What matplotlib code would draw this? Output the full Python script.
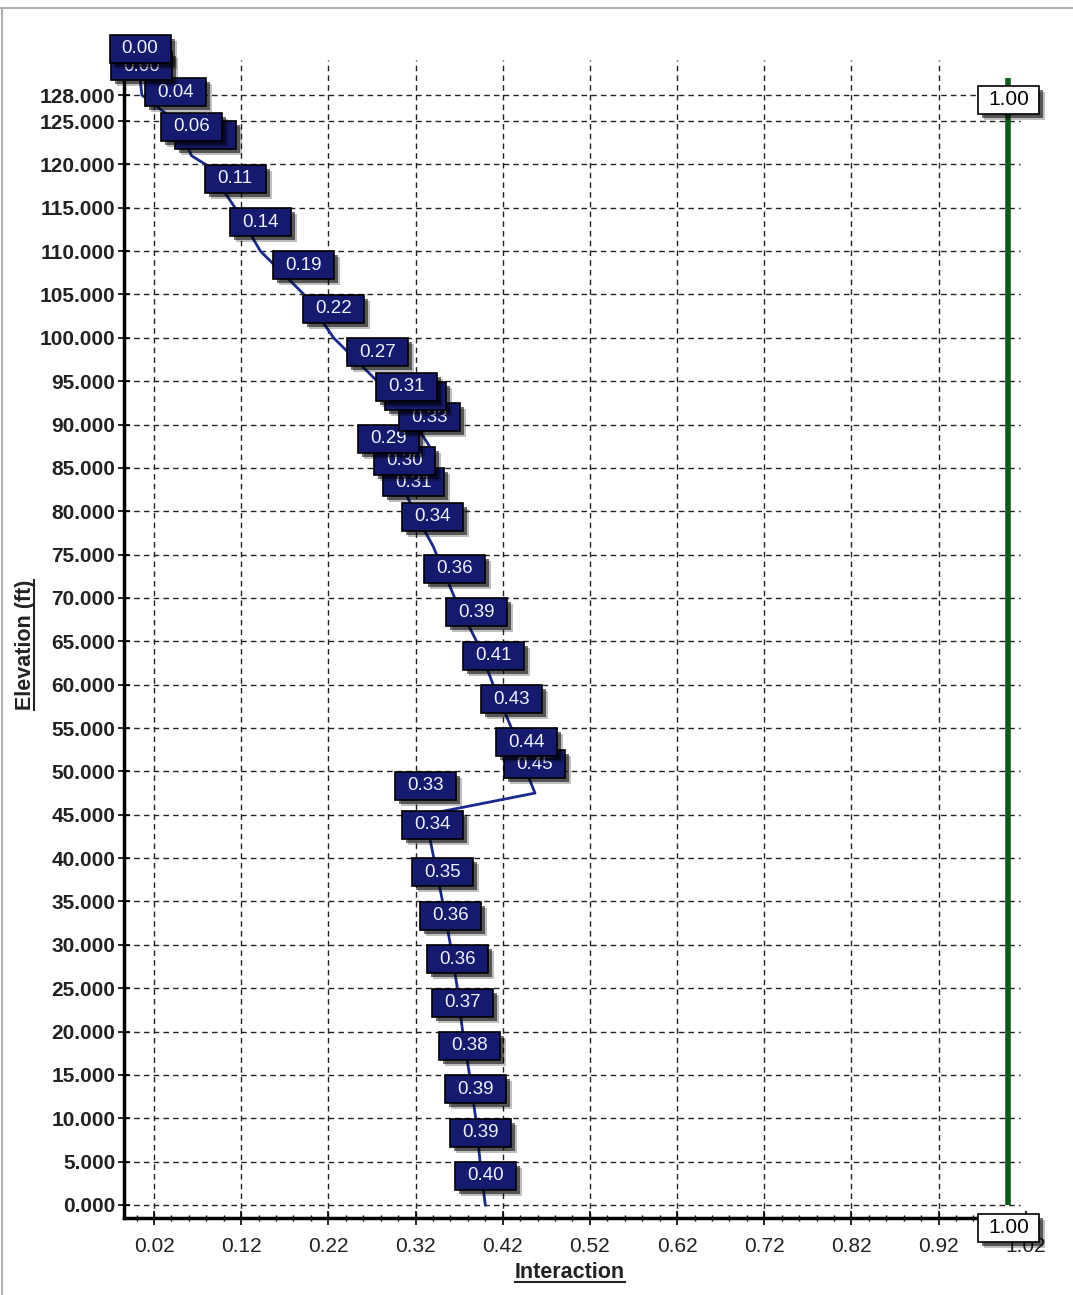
import numpy as np
import matplotlib
matplotlib.use("Agg")
import matplotlib.pyplot as plt
import matplotlib.transforms as mtransforms
from matplotlib.patches import Rectangle
from matplotlib.lines import Line2D

plt.rcParams['font.family'] = ['Liberation Sans', 'DejaVu Sans']

# ---------------------------------------------------------------
# Datos
# ---------------------------------------------------------------
elevation = [130, 128, 125, 121, 120, 115, 110, 105, 100, 95, 91, 90, 87.5, 85, 82.5,
             80, 76, 70, 65, 60, 55, 50, 47.5, 45, 40.5, 35, 30, 25, 20, 15, 10, 5, 0]
interaction = [0.004, 0.006, 0.045, 0.063, 0.079, 0.113, 0.142, 0.192, 0.226, 0.276,
               0.310, 0.320, 0.336, 0.289, 0.307, 0.318, 0.340, 0.365, 0.390, 0.409,
               0.430, 0.447, 0.457, 0.331, 0.340, 0.351, 0.360, 0.368, 0.374, 0.382,
               0.389, 0.394, 0.400]
# "" = etiqueta tapada por completo por la caja de encima
point_labels = ["0.00", "0.00", "0.04", "0.06", "", "0.11", "0.14", "0.19", "0.22",
                "0.27", "0.31", "", "0.33", "0.29", "0.30", "0.31", "0.34", "0.36",
                "0.39", "0.41", "0.43", "0.44", "0.45", "0.33", "0.34", "0.35", "0.36",
                "0.36", "0.37", "0.38", "0.39", "0.39", "0.40"]

limit_x = [1.00, 1.00]
limit_y = [0, 130]
limit_label = "1.00"

x_ticks = [0.02, 0.12, 0.22, 0.32, 0.42, 0.52, 0.62, 0.72, 0.82, 0.92, 1.02]
x_ticklabels = ["0.02", "0.12", "0.22", "0.32", "0.42", "0.52", "0.62", "0.72",
                "0.82", "0.92", "1.02"]
y_ticks = list(range(0, 130, 5)) + [128]
y_ticklabels = [f"{v:.3f}" for v in y_ticks]

# ---------------------------------------------------------------
# Figura
# ---------------------------------------------------------------
W, H = 1073, 1295
fig = plt.figure(figsize=(W / 100, H / 100), dpi=100)
ax = fig.add_axes([123.5 / W, 77 / H, 911 / W, 1136 / H])
ax.set_xlim(-0.015, 1.03)
ax.set_ylim(-1.5, 129.5)

# rejilla a mano (no llega hasta el borde derecho)
grid_kw = dict(color="#222222", lw=1.0, linestyle=(0, (4, 3)), zorder=1)
ax.hlines(y_ticks, -0.015, 1.013, **grid_kw)
ax.vlines(x_ticks[:-1], -1.5, 132, clip_on=False, **grid_kw)

# ejes
for s in ["top", "right"]:
    ax.spines[s].set_visible(False)
for s in ["left", "bottom"]:
    ax.spines[s].set_linewidth(2.5)
    ax.spines[s].set_zorder(5)

ax.set_xticks(x_ticks)
ax.set_xticklabels(x_ticklabels, fontsize=15, color="#222222")
ax.set_xticks(np.arange(0.0, 1.031, 0.02), minor=True)
ax.set_yticks(y_ticks)
ax.set_yticklabels(y_ticklabels, fontsize=15, fontweight="bold", color="#222222")
ax.tick_params(axis="x", which="major", direction="inout", length=10, width=1.2, pad=9)
ax.tick_params(axis="x", which="minor", direction="inout", length=5, width=1.0)
ax.tick_params(axis="y", which="major", direction="inout", length=8, width=1.2, pad=2)

# linea limite verde
ax.plot(limit_x, limit_y, color="#0b5a1f", lw=4, zorder=4, clip_on=False,
        solid_capstyle="butt")

# linea de interaccion
ax.plot(interaction, elevation, color="#1a2a90", lw=2, zorder=3, clip_on=False)


def label_box(x, y, text, dy, z, fc, tc, ec="black", fs=13.5, w=61, h=28):
    """Caja de etiqueta con sombra, anclada en pixeles al punto (x, y)."""
    base = mtransforms.ScaledTranslation(x, y, ax.transData)
    for off, alpha in [((6, -6), 0.25), ((4, -4), 0.55)]:
        tr = mtransforms.Affine2D().translate(-w / 2 + off[0], dy - h / 2 + off[1]) + base
        ax.add_patch(Rectangle((0, 0), w, h, transform=tr, fc="black", ec="none",
                               alpha=alpha, zorder=z, clip_on=False))
    tr = mtransforms.Affine2D().translate(-w / 2, dy - h / 2) + base
    ax.add_patch(Rectangle((0, 0), w, h, transform=tr, fc=fc, ec=ec, lw=1.2,
                           zorder=z + 0.1, clip_on=False))
    if text:
        ax.annotate(text, (x, y), xytext=(0, dy), textcoords="offset pixels",
                    ha="center", va="center", color=tc, fontsize=fs,
                    zorder=z + 0.2, annotation_clip=False)


n = len(elevation)
for i, (xv, yv, lab) in enumerate(zip(interaction, elevation, point_labels)):
    label_box(xv, yv, lab, 29, 10 + (n - i), "#151a6e", "#eef0ff")

# etiquetas 1.00 en los extremos de la linea verde
label_box(limit_x[1], limit_y[1], limit_label, -22, 60, "white", "black", fs=15)
label_box(limit_x[0], limit_y[0], limit_label, -23, 60, "white", "black", fs=15)

# titulos de ejes subrayados
tx = fig.text(570 / W, 1 - 1273 / H, "Interaction", ha="center", va="center",
              fontsize=15.5, fontweight="bold", color="#222222")
ty = fig.text(25 / W, 1 - 645 / H, "Elevation (ft)", ha="center", va="center",
              rotation=90, fontsize=15.5, fontweight="bold", color="#222222")

fig.canvas.draw()
inv = fig.transFigure.inverted()
bb = tx.get_window_extent()
(x0, y0), (x1, _) = inv.transform([(bb.x0, bb.y0 + 2), (bb.x1, bb.y0 + 2)])
fig.add_artist(Line2D([x0, x1], [y0, y0], color="#222222", lw=1.5))
bb = ty.get_window_extent()
(x0, y0), (_, y1) = inv.transform([(bb.x1 - 1, bb.y0), (bb.x1 - 1, bb.y1)])
fig.add_artist(Line2D([x0, x0], [y0, y1], color="#222222", lw=1.5))

# marco gris del control
fig.add_artist(Line2D([0, 1], [1 - 8 / H, 1 - 8 / H], color="#b0b0b0", lw=1.5))
fig.add_artist(Line2D([2 / W, 2 / W], [0, 1 - 8 / H], color="#b0b0b0", lw=1.5))

fig.savefig("out.png", dpi=100)
